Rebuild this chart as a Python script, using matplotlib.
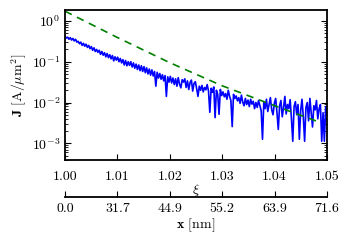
import numpy as np
import matplotlib
matplotlib.use('Agg')
import matplotlib.pyplot as plt
from matplotlib.ticker import FixedLocator, FixedFormatter, LogLocator, NullLocator

plt.rcParams['font.family'] = 'serif'
plt.rcParams['font.serif'] = ['cmr10']
plt.rcParams['mathtext.fontset'] = 'cm'
plt.rcParams['axes.formatter.use_mathtext'] = True
plt.rcParams['font.size'] = 10

log_j = [
    -0.38, -0.42, -0.40, -0.45, -0.41, -0.47, -0.43, -0.49, -0.45, -0.52,
    -0.50, -0.56, -0.52, -0.60, -0.55, -0.62, -0.57, -0.65, -0.60, -0.68,
    -0.63, -0.72, -0.66, -0.75, -0.70, -0.77, -0.72, -0.82, -0.75, -0.84,
    -0.78, -0.88, -0.80, -0.90, -0.83, -0.93, -0.85, -0.98, -0.88, -0.96,
    -0.89, -1.00, -0.92, -1.03, -0.95, -1.08, -0.97, -1.10, -1.00, -1.09,
    -1.00, -1.13, -1.03, -1.16, -1.06, -1.19, -1.08, -1.22, -1.10, -1.24,
    -1.12, -1.27, -1.15, -1.30, -1.18, -1.33, -1.20, -1.35, -1.24, -1.60,
    -1.26, -1.40, -1.29, -1.43, -1.32, -1.47, -1.34, -1.85, -1.37, -1.50,
    -1.36, -1.52, -1.40, -1.56, -1.42, -1.60, -1.39, -1.55, -1.64, -1.44,
    -1.50, -1.42, -1.63, -1.47, -1.68, -1.51, -1.45, -1.72, -1.53, -1.49,
    -1.66, -1.85, -1.60, -1.70, -1.58, -1.74, -1.63, -1.69, -1.56, -1.72,
    -2.24, -1.65, -1.75, -1.62, -2.37, -1.70, -1.80, -2.29, -1.68, -1.83,
    -1.74, -1.86, -1.78, -1.92, -1.70, -1.85, -1.95, -2.59, -1.80, -1.90,
    -1.84, -1.96, -1.88, -2.02, -1.82, -1.99, -2.08, -1.90, -2.05, -1.94,
    -2.10, -1.92, -2.04, -1.97, -2.15, -2.00, -2.12, -1.95, -2.08, -2.20,
    -2.90, -2.00, -2.15, -1.92, -2.22, -2.05, -1.88, -2.18, -2.30, -2.02,
    -1.90, -2.25, -2.66, -2.08, -1.95, -2.35, -2.12, -1.85, -2.28, -2.05,
    -2.15, -1.93, -2.40, -2.95, -2.10, -1.98, -2.30, -2.05, -2.90, -2.20,
    -1.92, -2.35, -2.95, -2.12, -2.00, -2.45, -1.90, -2.25, -2.60, -2.08,
    -2.18, -1.95, -2.40, -2.15, -2.05, -2.95, -2.25, -2.95, -2.10, -2.30,
]
xi = np.linspace(1.0, 1.05, len(log_j))
J = 10.0 ** np.array(log_j)

# model curve (green dashed)
xi_fit = [1.00, 1.01, 1.02, 1.03, 1.04, 1.048]
J_fit = [1.73, 0.392, 0.0946, 0.0257, 0.00835, 0.0035]

xi_ticks = [1.00, 1.01, 1.02, 1.03, 1.04, 1.05]
xi_labels = ['1.00', '1.01', '1.02', '1.03', '1.04', '1.05']
nm_labels = ['0.0', '31.7', '44.9', '55.2', '63.9', '71.6']

fig = plt.figure(figsize=(3.49, 2.43), dpi=100)
ax = fig.add_axes([65/349, 1 - 160/243, 262/349, 150/243])

ax.plot(xi, J, color='#0000ff', lw=1.2)
ax.plot(xi_fit, J_fit, color='#008000', lw=1.2, dashes=(4.5, 3.5))

ax.set_yscale('log')
ax.set_ylim(3.9e-4, 1.85)
ax.set_xlim(1.0, 1.05)
ax.yaxis.set_major_locator(LogLocator(base=10, numticks=10))
ax.yaxis.set_minor_locator(LogLocator(base=10, subs=np.arange(2, 10), numticks=10))
ax.xaxis.set_major_locator(FixedLocator(xi_ticks))
ax.xaxis.set_major_formatter(FixedFormatter(xi_labels))
ax.xaxis.set_minor_locator(NullLocator())
ax.tick_params(which='both', direction='in', right=True, top=False)
ax.tick_params(which='major', length=4, width=0.8)
ax.tick_params(which='minor', length=2, width=0.6)
ax.tick_params(axis='x', pad=8)
for s in ax.spines.values():
    s.set_linewidth(1.3)

ax.set_xlabel(r'$\xi$', labelpad=-1)
ax.set_ylabel(r'$\mathbf{J}$ [A/$\mu$m$^2$]', labelpad=2)

# second x axis in nm
ax2 = ax.twiny()
ax2.set_xlim(ax.get_xlim())
ax2.xaxis.set_ticks_position('bottom')
ax2.xaxis.set_label_position('bottom')
ax2.spines['bottom'].set_position(('outward', 26.6))
for k in ['top', 'left', 'right']:
    ax2.spines[k].set_visible(False)
ax2.spines['bottom'].set_linewidth(1.3)
ax2.xaxis.set_major_locator(FixedLocator(xi_ticks))
ax2.xaxis.set_major_formatter(FixedFormatter(nm_labels))
ax2.xaxis.set_minor_locator(NullLocator())
ax2.tick_params(which='major', direction='in', length=4, width=0.8, pad=4)
ax2.set_xlabel(r'$\mathbf{x}$ [nm]', labelpad=1)

fig.savefig('out.png', dpi=100)
